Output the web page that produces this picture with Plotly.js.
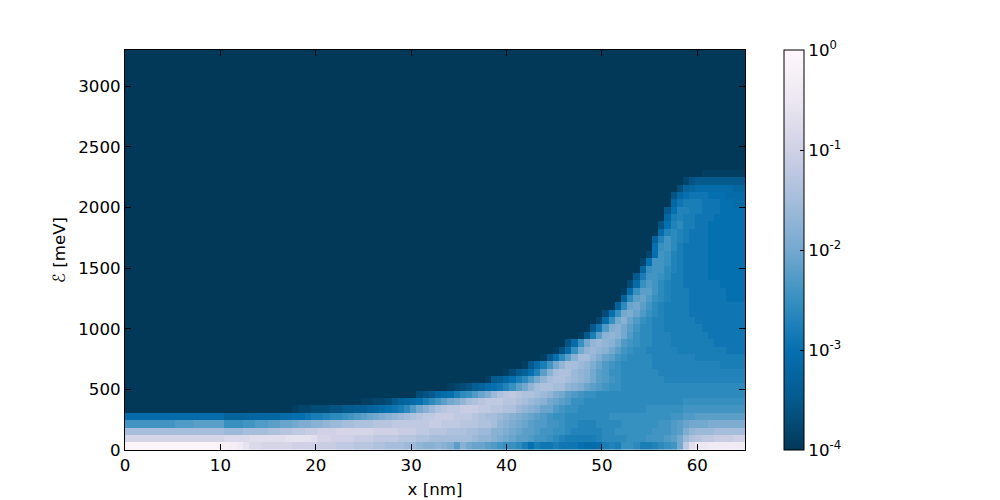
<!DOCTYPE html>
<html>
<head>
<meta charset="utf-8">
<script src="https://cdn.plot.ly/plotly-3.0.1.min.js"></script>
<style>html,body{margin:0;padding:0;background:#fff}</style>
</head>
<body>
<div id="chart" style="width:1000px;height:500px"></div>
<script>
// Each row: tenths of a decade above 1e-4 (0 = 1e-4, 40 = 1e0), right-aligned to the x grid.
const row00=[39,39,39,39,39,39,39,39,39,39,39,39,39,39,39,38,38,37,36,34,32,32,31,31,31,31,31,30,30,30,30,29,29,29,28,28,28,27,27,27,26,26,25,25,25,24,24,23,22,22,23,22,21,18,22,20,19,19,18,17,16,15,15,14,12,10,12,11,11,12,11,11,11,10,9,9,10,12,13,12,15,15,14,12,12,13,14,15,16,20,28,33,35,35,36,36,36,36,36,36];
const row01=[31,31,31,31,31,31,31,31,31,31,31,31,31,31,31,31,32,32,32,32,33,33,33,33,33,33,34,34,34,34,33,31,31,30,30,30,30,29,29,29,28,28,28,28,27,27,27,26,26,25,25,25,25,25,25,25,24,23,23,22,21,20,19,18,18,17,16,16,15,14,13,12,12,12,12,12,13,14,14,14,14,15,15,15,16,16,16,17,18,20,24,26,27,28,28,29,29,29,30,30];
const row02=[25,25,25,25,25,25,25,25,25,25,25,25,25,25,25,25,24,24,24,25,25,25,25,26,26,27,27,28,28,29,29,30,30,30,31,31,31,31,31,31,30,30,30,30,29,29,29,28,28,27,27,27,26,26,26,25,25,24,24,22,22,21,20,19,18,18,17,16,16,15,15,14,13,13,13,13,13,14,14,15,15,15,15,15,15,16,16,16,17,18,21,23,24,24,24,25,25,25,25,25];
const row03=[16,16,16,16,16,16,16,16,17,17,17,18,18,18,18,18,15,15,15,16,16,17,17,18,18,19,19,20,21,21,22,22,23,24,24,25,25,26,26,26,27,27,27,28,28,28,28,28,28,29,29,28,28,28,27,27,27,26,26,25,23,22,21,20,19,18,17,17,16,16,15,14,14,13,13,13,14,14,14,14,15,15,15,15,15,15,16,16,17,18,19,20,20,20,21,21,21,21,21,21];
const row04=[9,9,9,9,9,9,9,9,9,9,9,9,9,9,9,9,7,7,7,7,8,8,8,8,8,9,9,10,10,11,12,12,13,14,14,15,16,17,18,19,20,21,22,23,24,25,26,27,28,28,29,29,29,28,28,28,27,26,25,25,24,23,22,21,20,19,18,17,16,15,15,14,14,14,14,14,14,14,15,15,15,15,15,15,15,15,15,15,16,16,17,17,18,18,18,18,18,18,18,18];
const row05=[1,2,2,3,3,3,4,4,5,5,6,6,7,8,9,10,11,12,14,17,20,22,24,26,27,28,28,29,29,29,28,28,27,27,26,26,24,23,22,21,19,19,17,16,15,15,14,14,14,14,14,14,14,14,14,14,14,15,15,15,15,15,15,16,16,16,16,16,16,16,16,16,16];
const row06=[1,1,2,2,3,5,7,8,9,10,12,14,16,18,20,21,23,25,26,27,28,28,28,27,27,26,25,24,23,22,20,19,18,17,15,15,14,14,14,14,14,14,14,14,14,14,14,14,14,14,14,14,15,15,15,15,15,15,15,15,15,15];
const row07=[3,4,5,8,9,10,12,14,15,17,19,21,24,26,27,28,27,26,26,25,24,23,21,20,18,17,16,15,15,14,14,14,14,14,14,14,14,14,14,14,14,14,14,14,14,14,14,14,14,14,14,14,14];
const row08=[1,2,3,4,6,7,9,10,11,13,15,18,20,23,25,26,26,25,25,23,22,21,19,18,17,16,15,15,14,14,14,14,14,14,14,14,14,14,14,14,14,14,14,14,14,14,14,14];
const row09=[1,5,6,8,10,12,14,17,20,23,25,26,26,25,24,23,22,20,18,17,16,15,14,14,14,14,14,14,14,13,13,13,13,13,13,13,13,13,13,13,13,13];
const row10=[1,3,5,7,10,13,18,22,25,26,26,24,23,22,20,18,17,15,15,14,14,14,14,14,14,13,13,13,13,13,13,13,13,13,13,13,13,13,13];
const row11=[1,5,9,12,16,20,23,25,25,24,23,21,19,17,16,15,14,14,14,14,14,13,13,13,13,13,13,13,13,13,13,13,12,12,12,12];
const row12=[1,5,10,14,18,22,25,25,23,21,19,18,16,15,14,14,14,14,13,13,13,13,13,13,13,12,12,12,12,12,12,12,12];
const row13=[1,4,9,15,20,23,24,23,22,20,18,16,15,14,14,13,13,13,13,13,12,12,12,12,12,12,12,12,11,11,11];
const row14=[4,9,15,20,23,24,23,22,20,17,16,15,14,14,13,13,13,12,12,12,12,12,12,12,11,11,11,11,11];
const row15=[1,5,12,18,22,23,22,20,17,15,14,14,13,13,13,12,12,12,12,12,12,11,11,11,11,11,11];
const row16=[5,11,17,21,22,20,18,16,14,14,13,13,12,12,12,12,12,12,11,11,11,11,11,11,11];
const row17=[2,9,15,20,22,19,17,15,14,13,13,12,12,12,12,12,11,11,11,11,11,11,11,11];
const row18=[3,10,15,20,21,19,17,15,14,13,12,12,12,12,11,11,11,11,11,11,11,11,11];
const row19=[7,14,19,20,18,16,14,13,12,12,12,12,11,11,11,11,11,11,11,11,11];
const row20=[7,14,18,19,17,15,14,13,12,12,12,11,11,11,11,11,11,10,10,10];
const row21=[1,9,15,18,18,16,14,13,12,12,12,11,11,11,11,11,11,10,10,10];
const row22=[3,9,15,17,16,14,13,12,12,11,11,11,11,11,11,10,10,10,10];
const row23=[5,12,16,16,15,14,12,12,11,11,11,11,10,10,10,10,10,10];
const row24=[8,15,16,16,14,13,12,11,11,11,11,10,10,10,10,10,10];
const row25=[2,10,16,16,15,13,12,11,11,11,11,10,10,10,10,10,10];
const row26=[2,10,16,15,13,12,11,11,11,11,10,10,10,10,10,10];
const row27=[10,15,16,14,12,11,11,11,11,10,10,10,10,10,10];
const row28=[7,13,16,14,13,12,11,11,11,10,10,10,10,10,10];
const row29=[9,13,14,13,12,11,11,11,10,10,10,10,10,10];
const row30=[4,10,13,14,12,12,11,11,10,10,10,10,10,10];
const row31=[8,12,13,12,12,11,11,11,10,10,10,10,10];
const row32=[5,10,13,13,12,12,11,11,11,10,10,10,10];
const row33=[8,11,12,12,12,11,11,11,10,10,9,9];
const row34=[4,8,10,11,11,11,10,10,10,9,9,9];
const row35=[3,7,8,9,9,9,9,9,9,8,8];
const row36=[2,4,5,5,5,5,5,5,5,5];
const row37=[1,1,1,1,1,1,1];

const rows=[row00,row01,row02,row03,row04,row05,row06,row07,row08,row09,row10,row11,row12,row13,row14,row15,row16,row17,row18,row19,row20,row21,row22,row23,row24,row25,row26,row27,row28,row29,row30,row31,row32,row33,row34,row35,row36,row37];
const nCols=100, nRows=55;
const colorbarTickVals=[-4,-3,-2,-1,0];
const colorbarTickText=['10<sup>-4</sup>','10<sup>-3</sup>','10<sup>-2</sup>','10<sup>-1</sup>','10<sup>0</sup>'];

const z=[];
for(let k=0;k<nRows;k++){
  const tail=rows[k]||[];
  const full=new Array(nCols-tail.length).fill(0).concat(tail);
  z.push(full.map(v=>v/10-4));
}
const pubuR=[[0,'#023858'],[0.125,'#045a8d'],[0.25,'#0570b0'],[0.375,'#3690c0'],[0.5,'#74a9cf'],[0.625,'#a6bddb'],[0.75,'#d0d1e6'],[0.875,'#ece7f2'],[1,'#fff7fb']];
const font={family:'"DejaVu Sans",sans-serif',size:16.67,color:'#000'};
const axis={showgrid:false,zeroline:false,showline:true,linecolor:'#000',linewidth:1,mirror:'ticks',ticks:'inside',ticklen:6,tickcolor:'#000',tickwidth:1,tickfont:font};
Plotly.newPlot('chart',[{
  type:'heatmap',z:z,x0:0.325,dx:0.65,y0:30.4,dy:60.8,zmin:-4,zmax:0,colorscale:pubuR,hoverinfo:'skip',
  colorbar:{x:1.0629,xanchor:'left',xpad:0,y:0.5,yanchor:'middle',ypad:0,len:1,lenmode:'fraction',thickness:20,thicknessmode:'pixels',
    outlinecolor:'#000',outlinewidth:1,ticks:'inside',ticklen:4,tickcolor:'#000',tickvals:colorbarTickVals,ticktext:colorbarTickText,tickfont:font}
}],{
  width:1000,height:500,margin:{l:125,r:255,t:50,b:50,pad:0},paper_bgcolor:'#fff',plot_bgcolor:'#fff',showlegend:false,font:font,
  xaxis:Object.assign({},axis,{range:[0,65],dtick:10,tick0:0,title:{text:'x [nm]',font:font,standoff:9}}),
  yaxis:Object.assign({},axis,{range:[0,3300],dtick:500,tick0:0,title:{text:'ℰ [meV]',font:font,standoff:8}})
},{displayModeBar:false,staticPlot:true});
</script>
</body>
</html>
